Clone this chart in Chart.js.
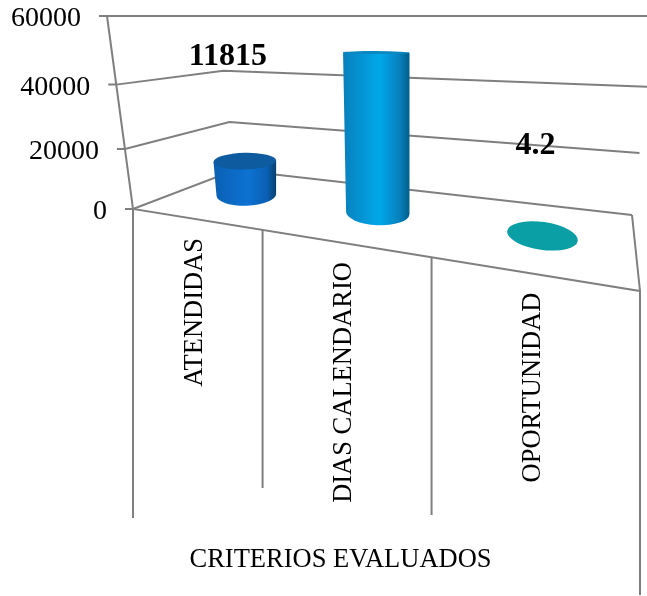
<!DOCTYPE html>
<html>
<head>
<meta charset="utf-8">
<style>
  html, body { margin: 0; background: #fff; }
  canvas { display: block; }
</style>
<script src="https://cdn.jsdelivr.net/npm/chart.js@4/dist/chart.umd.js"></script>
</head>
<body>
<canvas id="chart" width="647" height="596"></canvas>
<script>
// data
const categories = ['ATENDIDAS', 'DIAS CALENDARIO', 'OPORTUNIDAD'];
const values = [11815, 49623, 4.2];
const valueLabels = ['11815', null, '4.2'];
const yTicks = [0, 20000, 40000, 60000];
const axisTitle = 'CRITERIOS EVALUADOS';
const barColors = ['#0d72d2', '#00a8ea', '#0a9fa5'];
const barEdges = ['#0a60b4', '#0880bc', '#0a9fa5'];
const barDarks = ['#07406f', '#00608c', '#0a9fa5'];
const barCaps = ['#0e5b9f', '#0b88c0', '#0a9fa5'];

// picture geometry, the floor is a tilted quad
const font = '"Liberation Serif", serif';
const wallColor = '#7f7f7f';
const floorBackL = { x: 235, y: 170 };
const floorBackR = { x: 632, y: 215 };
const floorFrontDrop = 82;
const floorDepth = 0.55;
const dropEnds = [518, 488, 515, 595];
const labelShifts = [[-17, -138], null, [-7, -90]];
let area = null;

const lerp = (a, b, t) => a + (b - a) * t;

function footOf(f) {
  const frontX = lerp(area.left, area.right, f);
  const frontY = area.bottom + floorFrontDrop * f;
  const backX = lerp(floorBackL.x, floorBackR.x, f);
  const backY = lerp(floorBackL.y, floorBackR.y, f);
  return { x: lerp(frontX, backX, floorDepth) + 3, y: lerp(frontY, backY, floorDepth) };
}

// scales with a bit of foreshortening
class PerspectiveLinear extends Chart.LinearScale {
  static id = 'perspectiveLinear';
  static defaults = Chart.LinearScale.defaults;
  getPixelForDecimal(d) { return super.getPixelForDecimal(d - 0.1 * d * (1 - d)); }
}
class PerspectiveCategory extends Chart.CategoryScale {
  static id = 'perspectiveCategory';
  static defaults = Chart.CategoryScale.defaults;
  getPixelForDecimal(d) { return super.getPixelForDecimal(d - 0.35 * d * (1 - d)); }
  drawTitle() {
    this.ctx.save();
    this.ctx.translate(-46, 0);
    super.drawTitle();
    this.ctx.restore();
  }
}

function ellipse(ctx, x, y, rx, ry, rot, color) {
  ctx.beginPath();
  ctx.ellipse(x, y, rx, ry, rot, 0, Math.PI * 2);
  ctx.fillStyle = color;
  ctx.fill();
}

// the bar as a cylinder standing on the floor
class CylinderElement extends Chart.BarElement {
  static id = 'cylinder';
  draw(ctx) {
    const f = (this.x - area.left) / (area.right - area.left);
    const foot = footOf(f);
    const s = 0.94 + 0.2 * f;
    const rx = 65 * s / 2;
    const topY = foot.y - (this.base - this.y) * s;
    const i = barColors.indexOf(this.options.backgroundColor);
    const ryTop = Math.max(1.5, (topY - 50) * 0.075);
    const ryFoot = Math.max(1.5, (foot.y - 50) * 0.075);
    // flat ellipses near eye level do not tilt
    const tilt = (foot.x - 300) * 0.033 * Math.PI / 180;
    const rotTop = tilt * Math.min(1, ryTop / 10);
    const dx = rx * Math.cos(rotTop);
    const dy = rx * Math.sin(rotTop);

    ctx.save();
    if (foot.y - topY > 1) {
      const g = ctx.createLinearGradient(foot.x - rx, 0, foot.x + rx, 0);
      g.addColorStop(0, barEdges[i]);
      g.addColorStop(0.55, barColors[i]);
      g.addColorStop(0.85, barEdges[i]);
      g.addColorStop(1, barDarks[i]);
      ctx.beginPath();
      ctx.moveTo(foot.x - dx, topY - dy);
      ctx.lineTo(foot.x + dx, topY + dy);
      ctx.ellipse(foot.x + 1.5, foot.y, rx - 1.5, ryFoot, tilt, 0, Math.PI);
      ctx.closePath();
      ctx.fillStyle = g;
      ctx.fill();
    }
    ellipse(ctx, foot.x, topY, rx, ryTop, rotTop, barCaps[i]);
    ctx.restore();
  }
}

Chart.register(PerspectiveLinear, PerspectiveCategory, CylinderElement);
Chart.defaults.datasets.bar.dataElementType = 'cylinder';

const walls = {
  id: 'walls',
  beforeDraw(chart) { area = chart.chartArea; },
  afterUpdate(chart) {
    area = chart.chartArea;
    const { x, y } = chart.scales;
    // y labels follow the leaning left edge
    y.getLabelItems().forEach((item, i) => {
      const f = (area.bottom - y.getPixelForTick(i)) / (area.bottom - area.top);
      item.options.translation[0] = area.left - 26 * f - 26;
    });
    // x labels hang from the slanted front edge
    x.getLabelItems().forEach((item, i) => {
      const px = x.getPixelForTick(i) + 2;
      const f = (px - area.left) / (area.right - area.left);
      item.textOffset = 0;
      item.options.translation = [px, area.bottom + floorFrontDrop * f + 19];
      item.options.textAlign = 'right';
      item.options.textBaseline = 'middle';
    });
  },
  beforeDatasetsDraw(chart) {
    const { ctx, chartArea: a } = chart;
    const { x, y } = chart.scales;
    const line = pts => {
      ctx.beginPath();
      pts.forEach((p, i) => i ? ctx.lineTo(p[0], p[1]) : ctx.moveTo(p[0], p[1]));
      ctx.stroke();
    };
    ctx.save();
    ctx.strokeStyle = wallColor;
    ctx.lineWidth = 2;

    yTicks.forEach(v => {
      const py = y.getPixelForValue(v);
      const f = (a.bottom - py) / (a.bottom - a.top);
      const lean = a.left - 26 * f;
      line([
        [lean - 8, py],
        [lean, py],
        [floorBackL.x - 18 * f, floorBackL.y - 154 * f],
        [floorBackR.x + 24 * f, floorBackR.y - 199 * f]
      ]);
    });

    // left wall edge, floor edges
    line([[a.left - 26, a.top], [a.left, a.bottom], [a.right, a.bottom + floorFrontDrop], [floorBackR.x, floorBackR.y]]);

    // drops under the front edge
    dropEnds.forEach((end, i) => {
      const px = x.getPixelForDecimal(i / categories.length);
      const f = (px - a.left) / (a.right - a.left);
      line([[px, a.bottom + floorFrontDrop * f], [px, end]]);
    });
    ctx.restore();
  },
  afterDatasetsDraw(chart) {
    const { ctx } = chart;
    const { x } = chart.scales;
    ctx.save();
    ctx.font = 'bold 32px ' + font;
    ctx.fillStyle = '#000';
    ctx.textAlign = 'center';
    ctx.textBaseline = 'middle';
    chart.getDatasetMeta(0).data.forEach((el, i) => {
      if (!valueLabels[i]) return;
      const foot = footOf((el.x - x.left) / (x.right - x.left));
      ctx.fillText(valueLabels[i], foot.x + labelShifts[i][0], foot.y + labelShifts[i][1]);
    });
    ctx.restore();
  }
};

new Chart(document.getElementById('chart'), {
  type: 'bar',
  data: {
    labels: categories,
    datasets: [{
      data: values,
      backgroundColor: barColors,
      borderWidth: 0,
      clip: false
    }]
  },
  plugins: [walls],
  options: {
    responsive: false,
    animation: false,
    layout: { padding: { top: 16, right: 7 } },
    plugins: { legend: { display: false }, tooltip: { enabled: false } },
    scales: {
      x: {
        type: 'perspectiveCategory',
        grid: { display: false },
        border: { display: false },
        afterFit(s) { s.height = 387; s.paddingLeft = 0; s.paddingRight = 0; },
        ticks: {
          autoSkip: false,
          minRotation: 90,
          maxRotation: 90,
          color: '#000',
          font: { family: font, size: 26.5 }
        },
        title: {
          display: true,
          text: axisTitle,
          color: '#000',
          padding: { top: 0, bottom: 20 },
          font: { family: font, size: 26.5 }
        }
      },
      y: {
        type: 'perspectiveLinear',
        min: 0,
        max: 60000,
        grid: { display: false },
        border: { display: false },
        afterFit(s) { s.width = 133; s.paddingTop = 0; s.paddingBottom = 0; },
        afterBuildTicks(s) { s.ticks = yTicks.map(v => ({ value: v })); },
        ticks: {
          color: '#000',
          labelOffset: 3,
          callback: v => String(v),
          font: { family: font, size: 28 }
        }
      }
    }
  }
});
</script>
</body>
</html>
